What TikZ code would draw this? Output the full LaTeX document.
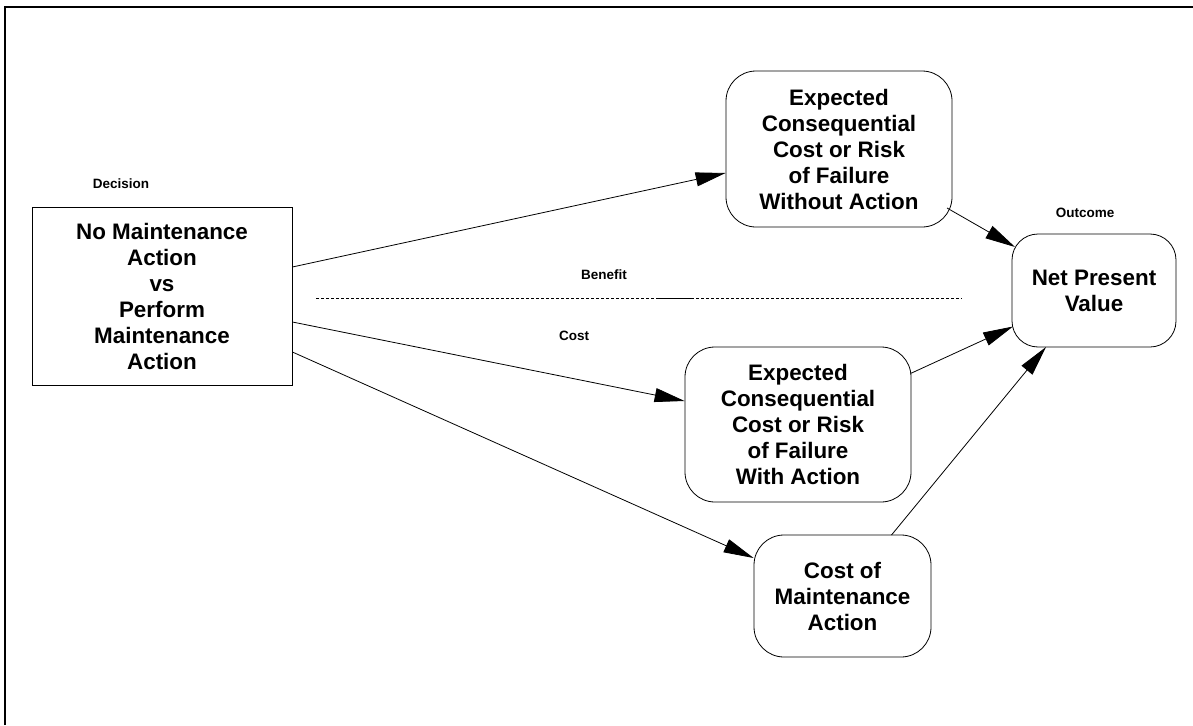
\documentclass[tikz,border=0pt]{standalone}
\usepackage{fontspec}
\setmainfont{Liberation Sans}
\usetikzlibrary{arrows.meta}
\begin{document}
\begin{tikzpicture}[x=1pt,y=-1pt,
  boxtext/.style={font=\fontsize{22.4}{26}\selectfont\bfseries, align=center, inner sep=0pt},
  sqbox/.style={boxtext, draw, line width=0.8pt},
  rbox/.style={boxtext, draw, line width=0.8pt, rounded corners=30pt},
  lbl/.style={font=\fontsize{13.5}{15}\selectfont\bfseries, inner sep=0pt},
  conn/.style={line width=0.8pt, -{Triangle[length=30pt,width=14pt]}}]
\useasboundingbox (0,0) rectangle (1193,725);
% outer frame (top and left only)
\draw[line width=2.2pt] (5,725) -- (5,7) -- (1193,7);

\node[sqbox, minimum width=260pt, minimum height=178pt] (dec) at (162,296)
  {No Maintenance\\Action\\vs\\Perform\\Maintenance\\Action};
\node[rbox, minimum width=226pt, minimum height=156pt] (b1) at (839,149)
  {Expected\\Consequential\\Cost or Risk\\of Failure\\Without Action};
\node[rbox, rounded corners=26pt, minimum width=164pt, minimum height=113pt] (npv) at (1094,290.5)
  {Net Present\\Value};
\node[rbox, minimum width=226pt, minimum height=155pt] (b2) at (798,424.5)
  {Expected\\Consequential\\Cost or Risk\\of Failure\\With Action};
\node[rbox, minimum width=177pt, minimum height=122pt] (b3) at (842.5,596)
  {Cost of\\Maintenance\\Action};

\node[lbl] (ldec) at (121,184) {Decision};
\node[lbl] (lout) at (1085,213) {Outcome};
\node[lbl] (lben) at (604,275) {Benefit};
\node[lbl] (lcost) at (574,336) {Cost};

% benefit / cost separator
\coordinate (s1) at (316,298);
\coordinate (s2) at (962,298);
\draw[line width=0.8pt, dash pattern=on 3pt off 2pt] (s1) -- (s2);
\draw[line width=1pt] (656,298) -- (694,298);

\draw[conn] ([yshift=29pt]dec.east) -- ([yshift=-24pt]b1.west);
\draw[conn] ([yshift=-26pt]dec.east) -- ([yshift=23.5pt]b2.west);
\draw[conn] ([yshift=-56pt]dec.east) -- ([yshift=38pt]b3.west);
\draw[conn] ([xshift=108pt,yshift=-59pt]b1.center) -- ([xshift=-79pt,yshift=43.5pt]npv.center);
\draw[conn] ([xshift=112.5pt,yshift=51pt]b2.center) -- ([xshift=-81pt,yshift=-36pt]npv.center);
\draw[conn] ([xshift=49pt,yshift=61pt]b3.center) -- ([xshift=-48pt,yshift=-56.5pt]npv.center);
\end{tikzpicture}
\end{document}
